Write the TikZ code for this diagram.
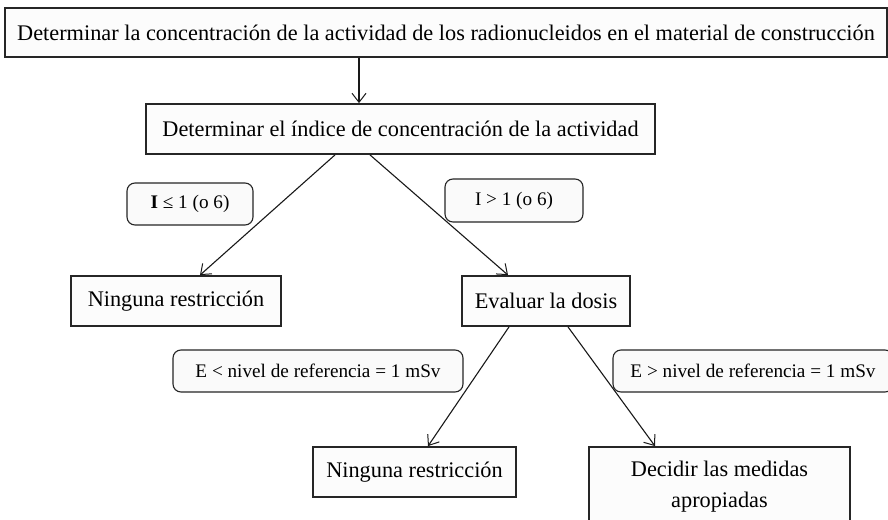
\documentclass[tikz,border=0pt]{standalone}
\usepackage{fontspec}
\setmainfont{Liberation Serif}
\usetikzlibrary{arrows.meta}
\begin{document}
\begin{tikzpicture}[x=1pt,y=-1pt,
  box/.style={draw=black!85, line width=1.8pt, fill=black!1, inner sep=0pt,
    font=\fontsize{22.3}{31}\selectfont, align=center},
  cond/.style={draw=black!85, line width=1.1pt, rounded corners=8pt, fill=black!2,
    inner sep=0pt, font=\fontsize{19.2}{23}\selectfont},
  arr/.style={-{Straight Barb[length=9pt,width=14pt,line width=1pt]},
    line width=1.1pt, draw=black!90}]
\clip (0,0) rectangle (888,519);
\fill[white] (0,0) rectangle (888,519);

\node[box, minimum width=882pt, minimum height=49pt] (top) at (446,32.5)
  {Determinar la concentración de la actividad de los radionucleidos en el material de construcción};
\node[box, minimum width=509pt, minimum height=50pt] (idx) at (400.5,129)
  {Determinar el índice de concentración de la actividad};

\node[cond, minimum width=126pt, minimum height=42pt] (lle) at (190,204)
  {\textbf{I} ≤ 1 (o 6)};
\node[cond, minimum width=138pt, minimum height=43pt] (lgt) at (514,200.5)
  {I > 1 (o 6)};

\node[box, minimum width=210pt, minimum height=50pt] (nr1) at (176,301)
  {Ninguna restricción};
\node[box, minimum width=168pt, minimum height=50pt] (eval) at (546,301)
  {Evaluar la dosis};

\node[cond, minimum width=290pt, minimum height=42pt] (elt) at (318,371)
  {E < nivel de referencia = 1 mSv};
\node[cond, minimum width=280pt, minimum height=42pt] (egt) at (753,371)
  {E > nivel de referencia = 1 mSv};

\node[box, minimum width=203pt, minimum height=50pt] (nr2) at (414.5,472)
  {Ninguna restricción};
\node[box, minimum width=261pt, minimum height=80pt] (dec) at (719.5,487)
  {Decidir las medidas\\apropiadas};

\draw[arr] ([xshift=-87pt]top.south) -- ([xshift=-41.5pt]idx.north);
\draw[arr] ([xshift=-65.5pt]idx.south) -- ([xshift=24pt]nr1.north);
\draw[arr] ([xshift=-30.5pt]idx.south) -- ([xshift=-38pt]eval.north);
\draw[arr] ([xshift=-37pt]eval.south) -- ([xshift=13.5pt]nr2.north);
\draw[arr] ([xshift=22pt]eval.south) -- ([xshift=-64.5pt]dec.north);
\end{tikzpicture}
\end{document}
